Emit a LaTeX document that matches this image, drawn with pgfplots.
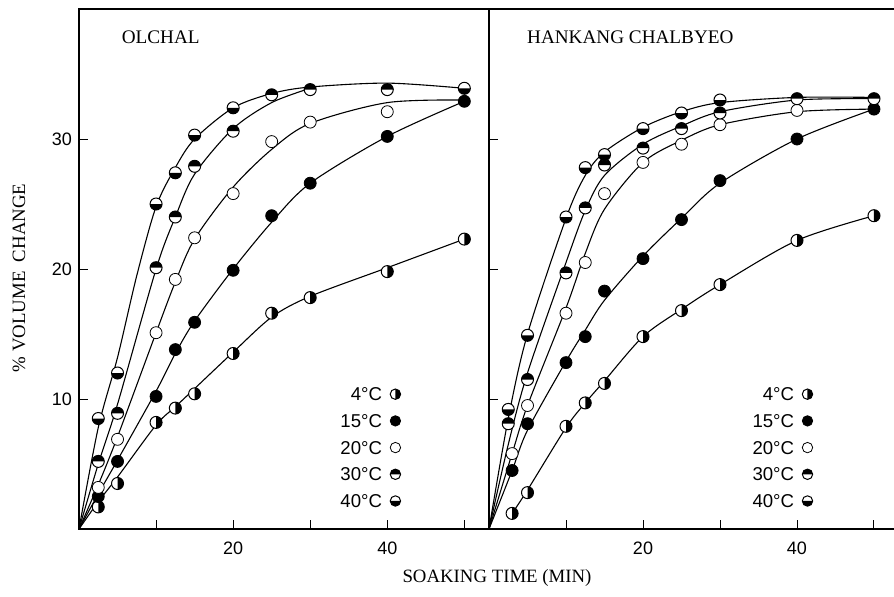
\documentclass[border=0pt]{standalone}
\usepackage{fontspec}
\setmainfont{Liberation Serif}
\setsansfont{Liberation Sans}
\usepackage{pgfplots}
\pgfplotsset{compat=1.18}

% half-filled circles
\pgfdeclareplotmark{halfR}{%
  \pgfpathcircle{\pgfpointorigin}{\pgfplotmarksize}
  \pgfsetfillcolor{white}\pgfusepathqfill
  \pgfpathmoveto{\pgfqpoint{0pt}{\pgfplotmarksize}}
  \pgfpatharc{90}{-90}{\pgfplotmarksize}
  \pgfpathclose
  \pgfsetfillcolor{black}\pgfusepathqfill
  \pgfpathcircle{\pgfpointorigin}{\pgfplotmarksize}
  \pgfusepathqstroke}
\pgfdeclareplotmark{halfT}{%
  \pgfpathcircle{\pgfpointorigin}{\pgfplotmarksize}
  \pgfsetfillcolor{white}\pgfusepathqfill
  \pgfpathmoveto{\pgfqpoint{\pgfplotmarksize}{0pt}}
  \pgfpatharc{0}{180}{\pgfplotmarksize}
  \pgfpathclose
  \pgfsetfillcolor{black}\pgfusepathqfill
  \pgfpathcircle{\pgfpointorigin}{\pgfplotmarksize}
  \pgfusepathqstroke}
\pgfdeclareplotmark{halfB}{%
  \pgfpathcircle{\pgfpointorigin}{\pgfplotmarksize}
  \pgfsetfillcolor{white}\pgfusepathqfill
  \pgfpathmoveto{\pgfqpoint{-\pgfplotmarksize}{0pt}}
  \pgfpatharc{180}{360}{\pgfplotmarksize}
  \pgfpathclose
  \pgfsetfillcolor{black}\pgfusepathqfill
  \pgfpathcircle{\pgfpointorigin}{\pgfplotmarksize}
  \pgfusepathqstroke}

\pgfplotsset{
  panel/.style={
    scale only axis, height=260pt,
    ymin=0, ymax=40, xmin=0,
    xtick={10,20,30,40,50}, xticklabels={,20,,40,},
    ytick={10,20,30},
    tick style={black, line width=0.5pt},
    axis line style={line width=0.6pt},
    tick label style={font=\sffamily\fontsize{9}{10}\selectfont},
    xticklabel style={yshift=-3pt},
    /pgf/number format/assume math mode=true,
    legend plot pos=right,
    legend cell align=right,
    legend style={draw=none, fill=none, font=\sffamily\fontsize{9.3}{10}\selectfont,
      anchor=north east, row sep=3.85pt,
      nodes={inner sep=1.5pt, text height=6.5pt, text depth=0pt}},
    legend image code/.code={\path (0pt,0pt); \draw[##1, mark size=2.6pt] plot coordinates {(5pt,0pt)};},
  },
  crv/.style={black, line width=0.55pt, smooth, no marks, forget plot},
  mk/.style={only marks, mark size=3pt, mark options={draw=black, line width=0.5pt}},
}

\begin{document}
\begin{tikzpicture}
\begin{axis}[panel, name=left, width=205pt, xmax=53.2, xtick pos=left, ytick pos=left,
  legend style={at={(rel axis cs:0.80,0.286)}}]
% curves
\addplot[crv] coordinates {(0,0)(2.5,2.1)(5,4.0)(10,8.0)(12.5,9.4)(15,10.8)(20,13.6)(25,16.3)(30,17.9)(40,20.1)(50,22.3)};
\addplot[crv] coordinates {(0,0)(2.5,2.7)(5,5.3)(10,10.6)(12.5,13.5)(15,16)(20,20)(25,23.6)(30,26.6)(40,30.2)(50,32.9)};
\addplot[crv] coordinates {(0,0)(2.5,3.4)(5,7.1)(10,15.1)(12.5,19)(15,22.3)(20,26.3)(25,29.2)(30,31.2)(40,32.8)(50,33.0)};
\addplot[crv] coordinates {(0,0)(2.5,5.0)(5,9.6)(10,20.0)(12.5,24.0)(15,27.3)(20,30.8)(25,32.8)(30,33.9)};
\addplot[crv] coordinates {(0,0)(2.5,7.8)(5,13.2)(7.5,19.5)(10,24.8)(12.5,27.8)(15,30.0)(20,32.4)(25,33.5)(30,34.0)(40,34.3)(50,33.9)};
% points
\addplot[mk, mark=halfR] coordinates {(2.5,1.7)(5,3.5)(10,8.2)(12.5,9.3)(15,10.4)(20,13.5)(25,16.6)(30,17.8)(40,19.8)(50,22.3)};
\addlegendentry{4°C}
\addplot[mk, mark=*, mark options={fill=black}] coordinates {(2.5,2.5)(5,5.2)(10,10.2)(12.5,13.8)(15,15.9)(20,19.9)(25,24.1)(30,26.6)(40,30.2)(50,32.9)};
\addlegendentry{15°C}
\addplot[mk, mark=*, mark options={fill=white}] coordinates {(2.5,3.2)(5,6.9)(10,15.1)(12.5,19.2)(15,22.4)(20,25.8)(25,29.8)(30,31.3)(40,32.1)};
\addlegendentry{20°C}
\addplot[mk, mark=halfT] coordinates {(2.5,5.2)(5,8.9)(10,20.1)(12.5,24.0)(15,27.9)(20,30.6)(25,33.4)(30,33.8)(40,33.8)};
\addlegendentry{30°C}
\addplot[mk, mark=halfB] coordinates {(2.5,8.5)(5,12.0)(10,25.0)(12.5,27.4)(15,30.3)(20,32.4)(50,33.9)};
\addlegendentry{40°C}
\node[anchor=west, inner sep=0pt, font=\fontsize{9.6}{11}\selectfont] at (axis cs:5.5,37.8) {OLCHAL};
\end{axis}

\begin{axis}[panel, name=right, at={(left.south east)}, anchor=south west,
  width=202.5pt, xmax=52.6, axis x line*=box, axis y line*=left,
  xtick pos=left, ytick pos=left, yticklabels={},
  legend style={at={(rel axis cs:0.815,0.286)}}]
\addplot[crv] coordinates {(3,1.2)(5,3.0)(10,7.8)(12.5,9.7)(15,11.4)(20,14.8)(25,16.9)(30,18.8)(40,22.2)(50,24.1)};
\addplot[crv] coordinates {(0,0)(3,4.5)(5,7.6)(10,12.9)(12.5,15.3)(15,17.6)(20,21.0)(25,23.9)(30,26.6)(40,30.0)(50,32.3)};
\addplot[crv] coordinates {(0,0)(3,5.8)(5,9.5)(10,17.0)(12.5,21.2)(15,24.6)(20,28.2)(25,29.9)(30,31.1)(40,32.1)(50,32.3)};
\addplot[crv] coordinates {(0,0)(2.5,6.5)(5,12.0)(10,20.5)(12.5,24.5)(15,27.2)(20,29.6)(25,31.0)(30,32.1)(40,33.0)(50,33.1)};
\addplot[crv] coordinates {(0,0)(2.5,8.5)(5,15.0)(10,23.9)(12.5,27.2)(15,29.0)(20,30.9)(25,32.1)(30,32.8)(40,33.2)(50,33.2)};
\addplot[mk, mark=halfR] coordinates {(3,1.2)(5,2.8)(10,7.9)(12.5,9.7)(15,11.2)(20,14.8)(25,16.8)(30,18.8)(40,22.2)(50,24.1)};
\addlegendentry{4°C}
\addplot[mk, mark=*, mark options={fill=black}] coordinates {(3,4.5)(5,8.1)(10,12.8)(12.5,14.8)(15,18.3)(20,20.8)(25,23.8)(30,26.8)(40,30.0)(50,32.3)};
\addlegendentry{15°C}
\addplot[mk, mark=*, mark options={fill=white}] coordinates {(3,5.8)(5,9.5)(10,16.6)(12.5,20.5)(15,25.8)(20,28.2)(25,29.6)(30,31.1)(40,32.2)};
\addlegendentry{20°C}
\addplot[mk, mark=halfT] coordinates {(2.5,8.1)(5,11.5)(10,19.7)(12.5,24.7)(15,28.0)(20,29.3)(25,30.8)(30,32.0)(40,33.1)(50,33.1)};
\addlegendentry{30°C}
\addplot[mk, mark=halfB] coordinates {(2.5,9.2)(5,14.9)(10,24.0)(12.5,27.8)(15,28.8)(20,30.8)(25,32.0)(30,33.0)};
\addlegendentry{40°C}
\node[anchor=west, inner sep=0pt, font=\fontsize{9.6}{11}\selectfont] at (axis cs:4.9,37.8) {HANKANG CHALBYEO};
\end{axis}

\node[font=\fontsize{9.4}{11}\selectfont] at ([xshift=4pt, yshift=-24.5pt]left.south east) {SOAKING TIME (MIN)};
\node[font=\fontsize{9.4}{11}\selectfont, rotate=90] at (-30pt,125.5pt) {\%\ VOLUME\ \ CHANGE};
\pgfresetboundingbox
\path (-39.5pt,-33.5pt) rectangle (407.5pt,264.5pt);
\end{tikzpicture}
\end{document}
